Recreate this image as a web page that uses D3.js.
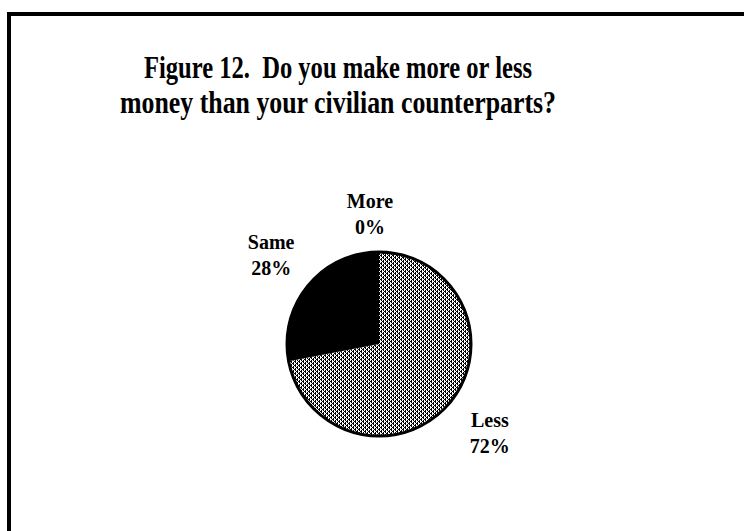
<!DOCTYPE html>
<html>
<head>
<meta charset="utf-8">
<script src="https://cdn.jsdelivr.net/npm/d3@7"></script>
<style>
  html, body { margin: 0; padding: 0; background: #fff; }
  svg { display: block; }
  text { white-space: pre; }
</style>
</head>
<body>
<svg id="chart" width="744" height="531"></svg>
<script>
// ---- data ----
const titleLines = ["Figure 12.  Do you make more or less", "money than your civilian counterparts?"];
const categories = ["Less", "Same", "More"];
const values = [72, 28, 0];
const valueLabels = ["72%", "28%", "0%"];

// ---- setup ----
const W = 744, H = 531;
const svg = d3.select("#chart");

// dithered gray pattern
const defs = svg.append("defs");
const pat = defs.append("pattern")
  .attr("id", "dither")
  .attr("patternUnits", "userSpaceOnUse")
  .attr("width", 4).attr("height", 4);
pat.append("rect").attr("width", 4).attr("height", 4).attr("fill", "#fff");
for (let i = 0; i < 4; i++) for (let j = 0; j < 4; j++) {
  const k = (i + j) % 4;
  if (k === 0 || (k === 2 && j % 2 === 0) || (k === 1 && i % 2 === 0)) {
    pat.append("rect").attr("x", i).attr("y", j).attr("width", 1).attr("height", 1).attr("fill", "#000");
  }
}

// frame (top and left edges visible)
svg.append("path")
  .attr("d", "M9,531 L9,14 L744,14")
  .attr("fill", "none")
  .attr("stroke", "#000")
  .attr("stroke-width", 4);

// title
const lengths = [388, 436];
const baselines = [78, 113];
titleLines.forEach((t, i) => {
  svg.append("text")
    .attr("x", 338).attr("y", baselines[i])
    .attr("text-anchor", "middle")
    .attr("font-family", "'Liberation Serif', 'Times New Roman', serif")
    .attr("font-weight", "bold")
    .attr("font-size", 31)
    .attr("textLength", lengths[i])
    .attr("lengthAdjust", "spacingAndGlyphs")
    .attr("fill", "#000")
    .text(t);
});

// pie
const cx = 379, cy = 344, r = 92;
const color = d3.scaleOrdinal().domain(categories).range(["url(#dither)", "#000", "#000"]);
const pie = d3.pie().sort(null).value(d => d.v);
const data = categories.map((c, i) => ({ c, v: values[i], l: valueLabels[i] }));
const arcs = pie(data);
const arc = d3.arc().innerRadius(0).outerRadius(r);
const labelArc = d3.arc().innerRadius(140).outerRadius(140);

const g = svg.append("g").attr("transform", `translate(${cx},${cy})`);
g.selectAll("path.slice")
  .data(arcs)
  .join("path")
  .attr("class", "slice")
  .attr("d", arc)
  .attr("fill", d => color(d.data.c))
  .attr("stroke", "none");

g.append("circle").attr("r", r).attr("fill", "none").attr("stroke", "#000").attr("stroke-width", 3);

const labelOffset = { More: [-9, 10], Less: [3, 0] };
const lab = g.selectAll("g.lab")
  .data(arcs)
  .join("g")
  .attr("class", "lab")
  .attr("transform", d => {
    const [x, y] = labelArc.centroid(d);
    const o = labelOffset[d.data.c] || [0, 0];
    return `translate(${x + o[0]},${y + o[1]})`;
  });
lab.append("text")
  .attr("y", -6)
  .attr("text-anchor", "middle")
  .attr("font-family", "'Liberation Serif', 'Times New Roman', serif")
  .attr("font-weight", "bold")
  .attr("font-size", 20)
  .text(d => d.data.c);
lab.append("text")
  .attr("y", 20)
  .attr("text-anchor", "middle")
  .attr("font-family", "'Liberation Serif', 'Times New Roman', serif")
  .attr("font-weight", "bold")
  .attr("font-size", 20)
  .text(d => d.data.l);
</script>
</body>
</html>
